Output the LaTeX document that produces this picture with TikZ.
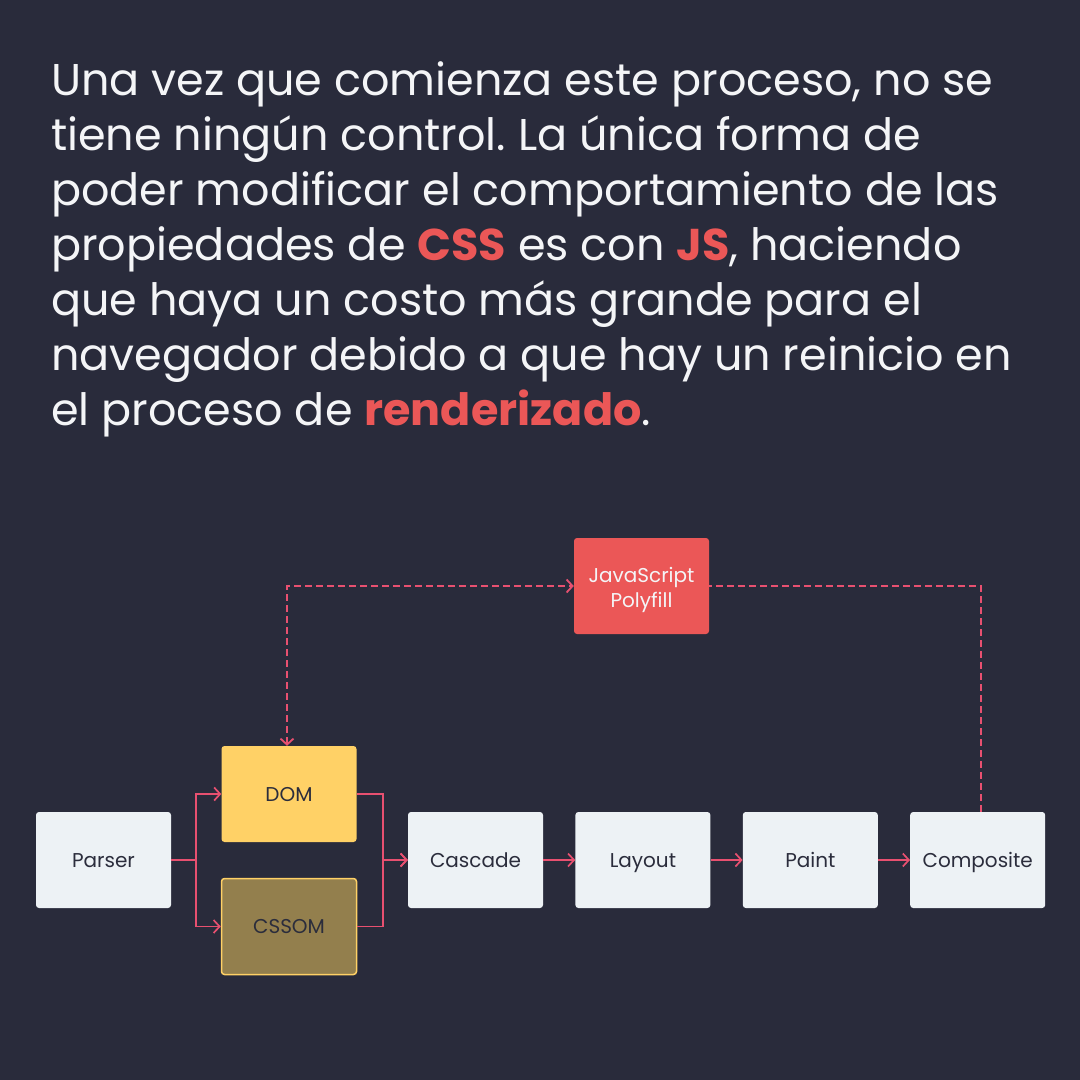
\documentclass[tikz,border=0pt]{standalone}
\usepackage{fontspec}
\setmainfont{Poppins}
\usepackage{xcolor}
\usetikzlibrary{arrows.meta, positioning}
\definecolor{bgnavy}{RGB}{41, 43, 59}
\definecolor{softwhite}{RGB}{244, 245, 247}
\definecolor{coral}{RGB}{235, 87, 87}
\definecolor{linkpink}{RGB}{232, 80, 112}
\definecolor{boxlight}{RGB}{237, 242, 245}
\definecolor{domyellow}{RGB}{255, 209, 102}
\definecolor{cssomolive}{RGB}{147, 127, 77}
\definecolor{inkdark}{RGB}{43, 45, 60}
\newcommand{\hlword}[1]{\textbf{\color{coral}#1}}
\frenchspacing

\begin{document}
\begin{tikzpicture}[x=1pt, y=-1pt,
    card/.style={draw=none, fill=boxlight, rounded corners=3pt, minimum width=135pt,
        minimum height=96pt, text=inkdark},
    stage/.style={card, font=\fontsize{20}{24}\selectfont, text height=14pt, text depth=0pt},
    flow/.style={linkpink, line width=1.7pt, -{Straight Barb[length=6pt, width=13pt]}},
    loopback/.style={linkpink, line width=1.8pt, dash pattern=on 7pt off 4pt}]
    \useasboundingbox (0,0) rectangle (1080,1080);
    \fill[bgnavy] (0,0) rectangle (1080,1080);

    % Intro paragraph
    \foreach \n/\txt in {0/{Una vez que comienza este proceso, no se},
        1/{tiene ningún control. La única forma de},
        2/{poder modificar el comportamiento de las},
        3/{propiedades de \hlword{CSS} es con \hlword{JS}, haciendo},
        4/{que haya un costo más grande para el},
        5/{navegador debido a que hay un reinicio en},
        6/{el proceso de \hlword{renderizado}.}} {
        \node[anchor=base west, inner sep=0pt, text=softwhite,
            font=\fontsize{44.5}{55}\selectfont] (line\n) at (51, 95+55*\n) {\txt};
    }

    % Pipeline stages
    \node[stage] (parser) at (103.5, 860) {Parser};
    \node[stage, fill=domyellow] (dom) at (289, 794) {DOM};
    \node[stage, fill=cssomolive, draw=domyellow, line width=1.5pt] (cssom) at (289, 926.5) {CSSOM};
    \node[stage] (cascade) at (475.5, 860) {Cascade};
    \node[stage, right=32pt of cascade] (layout) {Layout};
    \node[stage, right=32pt of layout] (paint) {Paint};
    \node[stage, right=32pt of paint] (composite) {Composite};
    \node[card, fill=coral, text=softwhite, align=center,
        font=\fontsize{20}{25}\selectfont] (polyfill) at (641.5, 586)
        {\rule{0pt}{23pt}JavaScript\\Polyfill};

    % Solid connectors
    \draw[flow] (parser.east) -- ++(25,0) |- (dom.west);
    \draw[flow] (parser.east) -- ++(25,0) |- (cssom.west);
    \draw[flow] (dom.east) -- ++(26,0) |- (cascade.west);
    \draw[flow] (cssom.east) -- ++(26,0) |- (cascade.west);
    \draw[flow] (cascade) -- (layout);
    \draw[flow] (layout) -- (paint);
    \draw[flow] (paint) -- (composite);

    % Dashed loop through the polyfill
    \draw[loopback] ([xshift=3pt]composite.north) |- (polyfill.east);
    \draw[loopback, {Straight Barb[length=6pt, width=13pt]}-{Straight Barb[length=6pt, width=13pt]}]
        ([xshift=-2pt]dom.north) |- (polyfill.west);
\end{tikzpicture}
\end{document}
